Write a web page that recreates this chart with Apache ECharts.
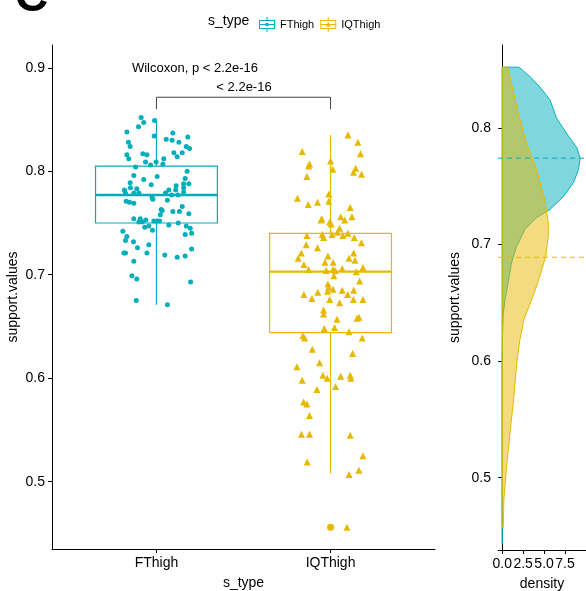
<!DOCTYPE html>
<html>
<head>
<meta charset="UTF-8">
<script src="https://cdn.jsdelivr.net/npm/echarts@6/dist/echarts.min.js"></script>
<style>
  html, body { margin: 0; padding: 0; background: #fff; }
  #chart { width: 586px; height: 591px; }
</style>
</head>
<body>
<div id="chart"></div>
<script>
const groups = ['FThigh', 'IQThigh'];
const colors = ['#00AFBB', '#E7B800'];
const fills = ['rgba(0,175,187,0.5)', 'rgba(231,184,0,0.5)'];

// [min, Q1, median, Q3, max]
const boxStats = [
  [0.671, 0.750, 0.777, 0.805, 0.851],
  [0.508, 0.644, 0.703, 0.740, 0.835]
];
const outliers = [[2, 0.456]];

// jitter points: [offset from group centre, value]
const fthighPoints = [
  [-0.088,0.852],[-0.073,0.847],[-0.011,0.849],[-0.103,0.843],[-0.170,0.838],[0.094,0.837],
  [-0.013,0.834],[0.180,0.833],[0.056,0.831],[0.090,0.830],[-0.161,0.828],[0.129,0.828],
  [-0.151,0.824],[0.171,0.824],[0.190,0.822],[-0.170,0.816],[-0.078,0.817],[-0.055,0.816],
  [0.100,0.818],[0.148,0.818],[-0.159,0.812],[0.119,0.814],[0.042,0.812],[-0.063,0.809],
  [-0.002,0.809],[0.037,0.807],[-0.120,0.804],[-0.034,0.806],[0.176,0.800],[-0.130,0.796],
  [0.004,0.795],[-0.073,0.792],[0.165,0.793],[-0.151,0.789],[-0.030,0.787],[0.113,0.786],
  [0.156,0.788],[0.186,0.788],[-0.149,0.784],[-0.113,0.783],[-0.184,0.782],[-0.178,0.779],
  [0.156,0.784],[0.110,0.782],[0.071,0.782],[-0.130,0.779],[-0.101,0.779],[0.052,0.779],
  [0.156,0.780],[0.087,0.777],[0.123,0.777],[-0.025,0.775],[-0.021,0.773],[-0.174,0.771],
  [-0.155,0.770],[-0.130,0.769],[0.063,0.772],[0.033,0.762],[0.148,0.766],[0.186,0.759],
  [0.027,0.763],[0.094,0.761],[0.132,0.761],[-0.130,0.754],[-0.093,0.754],[-0.101,0.751],
  [-0.082,0.751],[-0.061,0.753],[-0.015,0.752],[0.002,0.752],[0.018,0.752],[-0.044,0.747],
  [0.022,0.758],[0.071,0.748],[0.125,0.750],[0.171,0.747],[0.194,0.745],[-0.067,0.746],
  [-0.193,0.742],[-0.023,0.743],[0.165,0.739],[0.202,0.740],[-0.170,0.737],[-0.178,0.733],
  [-0.132,0.732],[-0.109,0.726],[-0.044,0.729],[0.202,0.725],[-0.187,0.721],[-0.178,0.721],
  [-0.055,0.721],[0.048,0.719],[0.119,0.717],[0.165,0.718],[-0.130,0.713],[-0.141,0.699],
  [-0.113,0.696],[0.196,0.693],[-0.116,0.675],[0.063,0.671]
];
const iqthighPoints = [
  [0.100,0.835],[0.157,0.828],[-0.163,0.819],[0.172,0.817],[0.000,0.810],[-0.121,0.807],
  [-0.126,0.805],[0.013,0.802],[0.144,0.803],[0.132,0.799],[0.178,0.797],[-0.136,0.795],
  [-0.010,0.778],[-0.190,0.774],[-0.010,0.771],[-0.075,0.770],[-0.128,0.768],[0.113,0.765],
  [-0.050,0.754],[-0.054,0.753],[0.058,0.756],[0.081,0.753],[0.123,0.756],[-0.005,0.751],
  [0.004,0.749],[0.052,0.745],[-0.136,0.738],[-0.048,0.739],[-0.040,0.736],[0.008,0.739],
  [0.039,0.741],[0.071,0.738],[0.100,0.740],[0.136,0.736],[-0.140,0.729],[-0.075,0.726],
  [0.177,0.731],[-0.168,0.721],[-0.186,0.716],[-0.015,0.718],[0.106,0.716],[0.133,0.721],
  [0.140,0.714],[-0.153,0.710],[-0.032,0.712],[0.015,0.712],[0.186,0.707],[-0.126,0.705],
  [-0.025,0.704],[0.014,0.705],[0.027,0.704],[0.067,0.706],[0.148,0.703],[0.019,0.699],
  [0.167,0.694],[-0.015,0.691],[-0.011,0.688],[-0.017,0.684],[0.014,0.686],[0.067,0.685],
  [0.133,0.685],[-0.153,0.681],[0.098,0.681],[-0.107,0.677],[-0.073,0.683],[-0.005,0.676],
  [0.052,0.673],[0.131,0.676],[0.186,0.676],[-0.040,0.666],[-0.040,0.662],[0.037,0.657],
  [0.152,0.658],[0.163,0.659],[-0.036,0.648],[0.023,0.649],[0.106,0.645],[-0.159,0.641],
  [-0.148,0.639],[0.182,0.639],[-0.105,0.628],[0.127,0.624],[-0.063,0.615],[-0.193,0.611],
  [-0.044,0.603],[-0.019,0.600],[0.058,0.602],[0.113,0.603],[0.117,0.600],[-0.163,0.598],
  [0.029,0.592],[-0.078,0.589],[-0.155,0.577],[-0.136,0.575],[-0.121,0.564],[-0.167,0.546],
  [-0.121,0.546],[0.113,0.545],[0.186,0.525],[-0.134,0.519],[0.163,0.511],[0.106,0.507],
  [0.094,0.456]
];

// density curves: [density, support.values]
const fthighDensity = [
  [2.0,0.852],[3.3,0.844],[4.5,0.835],[5.7,0.824],[6.5,0.808],[7.9,0.793],[8.9,0.783],
  [9.3,0.774],[9.1,0.764],[8.5,0.753],[7.3,0.741],[5.7,0.730],[4.1,0.723],[2.7,0.713],
  [1.7,0.698],[1.1,0.684],[0.7,0.667],[0.35,0.653],[0.12,0.640],[0.03,0.620],[0.0,0.600],
  [0.0,0.443]
];
const iqthighDensity = [
  [0.65,0.852],[1.2,0.835],[1.9,0.813],[2.9,0.787],[4.1,0.764],[5.1,0.738],[5.5,0.718],
  [5.5,0.707],[5.2,0.690],[4.5,0.673],[3.7,0.656],[2.6,0.636],[2.1,0.618],[1.7,0.596],
  [1.4,0.570],[0.93,0.538],[0.53,0.510],[0.2,0.481],[0.13,0.457]
];
const means = [0.774, 0.689];

const leftTicks = [0.5, 0.6, 0.7, 0.8, 0.9];
const rightTicks = [0.5, 0.6, 0.7, 0.8];
const densityTicks = [0, 2.5, 5, 7.5];

const font = 'Liberation Sans, Arial, sans-serif';
const axisCommon = {
  nameMoveOverlap: false,
  axisLine: { lineStyle: { color: '#000', width: 1 } },
  axisTick: { length: 4, lineStyle: { color: '#000' } },
  axisLabel: { color: '#000', fontSize: 14, fontFamily: font, margin: 7 },
  splitLine: { show: false },
  nameTextStyle: { color: '#000', fontSize: 14, fontFamily: font }
};
function axis(extra) {
  const a = JSON.parse(JSON.stringify(axisCommon));
  for (const k in extra) {
    if (typeof extra[k] === 'object' && a[k]) Object.assign(a[k], extra[k]);
    else a[k] = extra[k];
  }
  return a;
}

const boxIcon = 'path://M0,3H16V12H0Z M1,4V11H15V4Z M1,7H15V8H1Z M7.5,0H8.5V3H7.5Z M7.5,12H8.5V15H7.5Z';
const legendIcons = [
  boxIcon + ' M6.5,6H9.5V9H6.5Z',
  boxIcon + ' M8,5L10.5,9.5H5.5Z'
];

function densityPolygon(idx, pts) {
  return {
    type: 'custom',
    xAxisIndex: 1, yAxisIndex: 1,
    data: pts,
    z: 2 + idx,
    silent: true,
    renderItem: function (params, api) {
      if (params.dataIndex !== 0) return;
      const poly = [api.coord([0, pts[0][1]])];
      pts.forEach(p => poly.push(api.coord(p)));
      poly.push(api.coord([0, pts[pts.length - 1][1]]));
      return {
        type: 'polygon',
        shape: { points: poly },
        style: { fill: fills[idx], stroke: colors[idx], lineWidth: 1 }
      };
    }
  };
}

const chart = echarts.init(document.getElementById('chart'));
chart.setOption({
  animation: false,
  textStyle: { fontFamily: font },
  grid: [
    { left: 52, right: 151, top: 45, bottom: 42, outerBoundsMode: 'none', containLabel: false },
    { left: 498, right: 0, top: 45, bottom: 41, outerBoundsMode: 'none', containLabel: false }
  ],
  legend: {
    left: 254, top: 12,
    itemWidth: 16, itemHeight: 15, itemGap: 6,
    selectedMode: false,
    textStyle: { fontSize: 11, color: '#000', fontFamily: font },
    data: groups.map((g, i) => ({ name: g, icon: legendIcons[i] }))
  },
  graphic: [
    { type: 'text', left: 15, top: -25, style: { text: 'C', font: 'bold 46px ' + font, fill: '#000' } },
    { type: 'text', x: 208, y: 21, style: { text: 's_type', fontSize: 14, fontFamily: font, fill: '#000', verticalAlign: 'middle' } },
    { type: 'text', x: 195, y: 68, style: { text: 'Wilcoxon, p < 2.2e-16', fontSize: 13, fontFamily: font, fill: '#000', align: 'center', verticalAlign: 'middle' } },
    { type: 'text', x: 244, y: 87, style: { text: '< 2.2e-16', fontSize: 13, fontFamily: font, fill: '#000', align: 'center', verticalAlign: 'middle' } }
  ],
  xAxis: [
    axis({
      type: 'value', gridIndex: 0, min: 0.4, max: 2.6,
      name: 's_type', nameLocation: 'middle', nameGap: 27,
      axisTick: { customValues: [1, 2] },
      axisLabel: { customValues: [1, 2], formatter: v => groups[Math.round(v) - 1] }
    }),
    axis({
      type: 'value', gridIndex: 1, min: -0.5, max: 10,
      name: 'density', nameLocation: 'middle', nameGap: 27,
      axisTick: { customValues: densityTicks },
      axisLabel: { customValues: densityTicks, formatter: v => v.toFixed(1) }
    })
  ],
  yAxis: [
    axis({
      type: 'value', gridIndex: 0, min: 0.435, max: 0.922,
      name: 'support.values', nameLocation: 'middle', nameGap: 32,
      axisTick: { customValues: leftTicks },
      axisLabel: { customValues: leftTicks, formatter: v => v.toFixed(1) }
    }),
    axis({
      type: 'value', gridIndex: 1, min: 0.438, max: 0.871,
      name: 'support.values', nameLocation: 'middle', nameGap: 36,
      axisTick: { customValues: rightTicks },
      axisLabel: { customValues: rightTicks, formatter: v => v.toFixed(1) }
    })
  ],
  series: [
    {
      type: 'custom',
      name: 'box',
      xAxisIndex: 0, yAxisIndex: 0,
      data: boxStats.map((b, i) => [i + 1].concat(b)),
      encode: { x: 0, y: [1, 2, 3, 4, 5] },
      renderItem: function (params, api) {
        const i = params.dataIndex;
        const x = api.value(0);
        const c = colors[i];
        const lo = api.coord([x - 0.35, api.value(2)]);
        const hi = api.coord([x + 0.35, api.value(4)]);
        const med = api.value(3);
        const mL = api.coord([x - 0.35, med]);
        const mR = api.coord([x + 0.35, med]);
        const wMin = api.coord([x, api.value(1)]);
        const wMax = api.coord([x, api.value(5)]);
        const style = { stroke: c, lineWidth: 1.2, fill: null };
        return {
          type: 'group',
          children: [
            { type: 'line', shape: { x1: wMax[0], y1: wMax[1], x2: wMax[0], y2: hi[1] }, style: style },
            { type: 'line', shape: { x1: wMin[0], y1: lo[1], x2: wMin[0], y2: wMin[1] }, style: style },
            { type: 'rect', shape: { x: lo[0], y: hi[1], width: hi[0] - lo[0], height: lo[1] - hi[1] }, style: { stroke: c, lineWidth: 1.2, fill: '#fff' } },
            { type: 'line', shape: { x1: mL[0], y1: mL[1], x2: mR[0], y2: mR[1] }, style: { stroke: c, lineWidth: 2.4 } }
          ]
        };
      }
    },
    {
      type: 'scatter', name: 'IQThigh', xAxisIndex: 0, yAxisIndex: 0,
      symbol: 'circle', symbolSize: 7, itemStyle: { color: colors[1], opacity: 1 },
      data: outliers, z: 3
    },
    {
      type: 'scatter', name: 'FThigh', xAxisIndex: 0, yAxisIndex: 0,
      symbol: 'circle', symbolSize: 5, itemStyle: { color: colors[0], opacity: 1 },
      data: fthighPoints.map(p => [1 + p[0], p[1]]), z: 4
    },
    {
      type: 'scatter', name: 'IQThigh', xAxisIndex: 0, yAxisIndex: 0,
      symbol: 'triangle', symbolSize: 7, itemStyle: { color: colors[1], opacity: 1 },
      data: iqthighPoints.map(p => [2 + p[0], p[1]]), z: 4
    },
    {
      type: 'line', xAxisIndex: 0, yAxisIndex: 0, symbol: 'none', silent: true,
      lineStyle: { color: '#444', width: 1 },
      data: [[1, 0.860], [1, 0.8715], [2, 0.8715], [2, 0.860]]
    },
    densityPolygon(0, fthighDensity),
    densityPolygon(1, iqthighDensity),
    ...means.map((m, i) => ({
      type: 'line', xAxisIndex: 1, yAxisIndex: 1, symbol: 'none', silent: true, z: 5,
      lineStyle: { color: colors[i], width: 1, type: [5, 4] },
      data: [[-0.5, m], [10, m]]
    }))
  ]
});
</script>
</body>
</html>
